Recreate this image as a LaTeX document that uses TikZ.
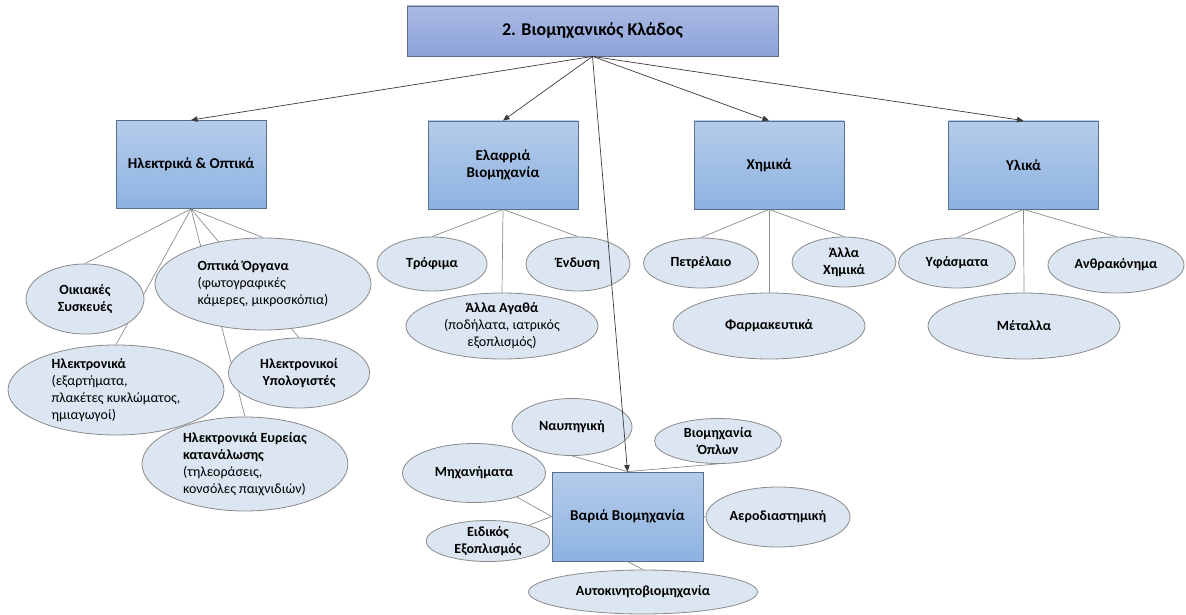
\documentclass[tikz,border=0pt]{standalone}
\usepackage{fontspec}
\setmainfont{Carlito}
\usetikzlibrary{shapes.geometric,arrows.meta,backgrounds}

\definecolor{headtop}{HTML}{AAB9E3}
\definecolor{headbot}{HTML}{8CA3D9}
\definecolor{headline}{HTML}{5E6A85}
\definecolor{cattop}{HTML}{B5CCEA}
\definecolor{catbot}{HTML}{8DB2E1}
\definecolor{catline}{HTML}{5A6F8C}
\definecolor{leaffill}{HTML}{DCE6F2}
\definecolor{leafline}{HTML}{8A8A8A}
\definecolor{linkgray}{HTML}{8C8C8C}
\definecolor{feedgray}{HTML}{3A3A3A}

\tikzset{
  headbox/.style={rectangle, draw=headline, line width=0.8pt,
    top color=headtop, bottom color=headbot, inner sep=0pt,
    font=\fontsize{18}{21}\selectfont\bfseries},
  catbox/.style={rectangle, draw=catline, line width=0.8pt,
    top color=cattop, bottom color=catbot, inner sep=0pt, align=center,
    minimum width=150pt, minimum height=88pt,
    font=\fontsize{15}{17}\selectfont\bfseries},
  leaf/.style={ellipse, draw=leafline, line width=0.8pt, fill=leaffill, inner sep=0pt},
  leaftext/.style={font=\fontsize{14}{17}\selectfont, inner sep=0pt},
  link/.style={draw=linkgray, line width=0.7pt},
  feed/.style={draw=feedgray, line width=0.7pt, -{Triangle[length=6.5pt,width=5.5pt]}},
}

\begin{document}
\begin{tikzpicture}[x=1pt,y=-1pt]
\useasboundingbox (0,0) rectangle (1186,615);

% root and sector boxes
\node[headbox, minimum width=371pt, minimum height=50pt] (root) at (592.5,31) {2. Βιομηχανικός Κλάδος};
\node[catbox] (eo) at (191,164.5) {Ηλεκτρικά \& Οπτικά};
\node[catbox] (light) at (503,165) {Ελαφριά\\Βιομηχανία};
\node[catbox] (chem) at (769,165) {Χημικά};
\node[catbox] (mat) at (1023.5,165) {Υλικά};
\node[catbox, minimum width=151pt, minimum height=89pt] (heavy) at (627.5,516.5) {Βαριά Βιομηχανία};

% electrical & optical products
\node[leaf, minimum width=118pt, minimum height=70pt,
  label={[leaftext, align=center]center:{\bfseries Οικιακές\\\bfseries Συσκευές}}] (home) at (85,299) {};
\node[leaf, minimum width=216pt, minimum height=92pt,
  label={[leaftext, align=left]center:{\textbf{Οπτικά Όργανα}\\(φωτογραφικές\\κάμερες, μικροσκόπια)}}] (optic) at (263,284) {};
\node[leaf, minimum width=216pt, minimum height=90pt,
  label={[leaftext, align=left]center:{\textbf{Ηλεκτρονικά}\\(εξαρτήματα,\\πλακέτες κυκλώματος,\\ημιαγωγοί)}}] (elec) at (116,390) {};
\node[leaf, minimum width=141pt, minimum height=70pt,
  label={[leaftext, align=center]center:{\bfseries Ηλεκτρονικοί\\\bfseries Υπολογιστές}}] (pc) at (299,373) {};
\node[leaf, minimum width=206pt, minimum height=94pt,
  label={[leaftext, align=left]center:{\textbf{Ηλεκτρονικά Ευρείας}\\\textbf{κατανάλωσης}\\(τηλεοράσεις,\\κονσόλες παιχνιδιών)}}] (cons) at (245,464) {};

% light industry
\node[leaf, minimum width=110pt, minimum height=54pt,
  label={[leaftext]center:{\bfseries Τρόφιμα}}] (food) at (432,264) {};
\node[leaf, minimum width=104pt, minimum height=54pt,
  label={[leaftext]center:{\bfseries Ένδυση}}] (cloth) at (578,264) {};
\node[leaf, minimum width=192pt, minimum height=66pt,
  label={[leaftext, align=center]center:{\textbf{Άλλα Αγαθά}\\(ποδήλατα, ιατρικός\\εξοπλισμός)}}] (goods) at (502,326) {};

% chemicals
\node[leaf, minimum width=115pt, minimum height=50pt,
  label={[leaftext]center:{\bfseries Πετρέλαιο}}] (oil) at (701,263) {};
\node[leaf, minimum width=104pt, minimum height=50pt,
  label={[leaftext, align=center]center:{\bfseries Άλλα\\\bfseries Χημικά}}] (ochem) at (844,262) {};
\node[leaf, minimum width=192pt, minimum height=66pt,
  label={[leaftext]center:{\bfseries Φαρμακευτικά}}] (pharma) at (769,326) {};

% materials
\node[leaf, minimum width=117pt, minimum height=50pt,
  label={[leaftext]center:{\bfseries Υφάσματα}}] (textile) at (957,263) {};
\node[leaf, minimum width=136pt, minimum height=56pt,
  label={[leaftext]center:{\bfseries Ανθρακόνημα}}] (carbon) at (1116,265) {};
\node[leaf, minimum width=192pt, minimum height=66pt,
  label={[leaftext]center:{\bfseries Μέταλλα}}] (metal) at (1024,326) {};

% heavy industry
\node[leaf, minimum width=120pt, minimum height=57pt,
  label={[leaftext]center:{\bfseries Ναυπηγική}}] (ship) at (572,427) {};
\node[leaf, minimum width=127pt, minimum height=45pt,
  label={[leaftext, align=center]center:{\bfseries Βιομηχανία\\\bfseries Όπλων}}] (arms) at (718,441) {};
\node[leaf, minimum width=143pt, minimum height=59pt,
  label={[leaftext]center:{\bfseries Μηχανήματα}}] (mach) at (474,473) {};
\node[leaf, minimum width=124pt, minimum height=41pt,
  label={[leaftext, align=center]center:{\bfseries Ειδικός\\\bfseries Εξοπλισμός}}] (equip) at (488,541) {};
\node[leaf, minimum width=144pt, minimum height=60pt,
  label={[leaftext]center:{\bfseries Αεροδιαστημική}}] (aero) at (778,517) {};
\node[leaf, minimum width=229pt, minimum height=44pt,
  label={[leaftext]center:{\bfseries Αυτοκινητοβιομηχανία}}] (auto) at (643,592) {};

% grey links behind the shapes
\begin{scope}[on background layer]
  \foreach \c in {home,elec,optic,pc,cons} \draw[link] (eo.south) -- (\c.north);
  \foreach \c in {food,goods,cloth} \draw[link] (light.south) -- (\c.north);
  \foreach \c in {oil,pharma,ochem} \draw[link] (chem.south) -- (\c.north);
  \foreach \c in {textile,metal,carbon} \draw[link] (mat.south) -- (\c.north);
  \draw[link] (ship.south) -- (heavy.north);
  \draw[link] (arms.south) -- (heavy.north);
  \draw[link] (mach) -- (heavy.west);
  \draw[link] (equip) -- (heavy.west);
  \draw[link] (heavy.east) -- (aero.west);
  \draw[link] (heavy.south) -- (auto.north);
\end{scope}

% arrows from the root
\foreach \c in {eo,light,chem,mat,heavy} \draw[feed] (root.south) -- (\c.north);
\end{tikzpicture}
\end{document}
